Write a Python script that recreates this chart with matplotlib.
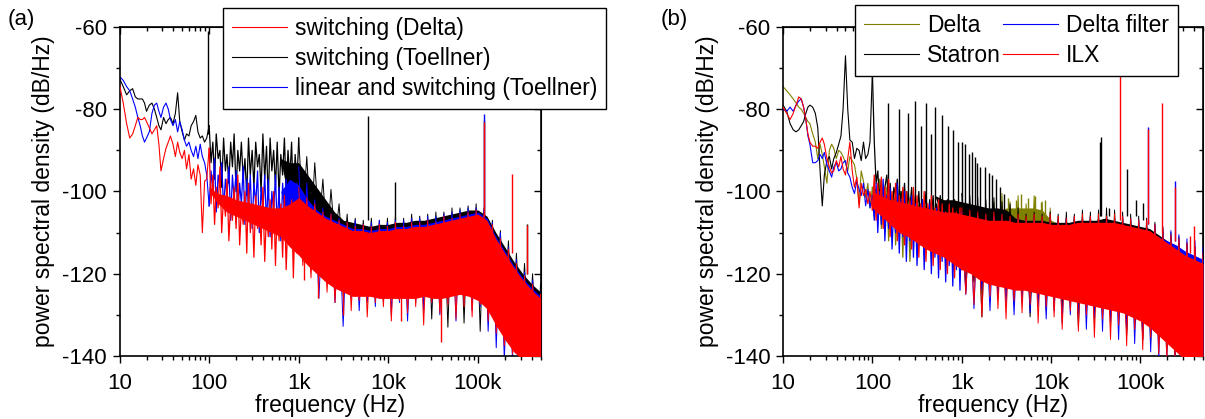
import matplotlib
matplotlib.use("Agg")
import matplotlib.pyplot as plt
from matplotlib.ticker import FixedLocator, FixedFormatter, MultipleLocator, NullFormatter, LogLocator

plt.rcParams["font.family"] = ["Liberation Sans", "DejaVu Sans"]
plt.rcParams["axes.unicode_minus"] = False

# shared frequency grids (Hz)
f_low = [10, 11, 12, 13, 14, 15, 16, 17, 18, 19, 20, 21.5, 23, 24.5, 26, 27.5, 29, 31, 33, 35,
         37, 39.5, 42, 44.5, 47, 50, 53, 56, 59.5, 63, 67, 71, 75, 79.5, 84, 89, 94, 100]
f_mid = [100, 105, 110, 115, 120, 126, 132, 138, 145, 152, 158, 166, 174, 182, 190, 200, 209,
         219, 229, 240, 251, 263, 275, 288, 302, 316, 331, 347, 363, 380, 398, 417, 437, 457,
         479, 501, 525, 550, 575, 603, 631, 661, 692, 724, 759, 794, 832, 871, 912, 955, 1000]
# envelope nodes of the dense noise band
f_band = [100, 126, 158, 200, 251, 316, 398, 501, 631, 794, 1000, 1259, 1585, 1995, 2512, 3162,
          3981, 5012, 6310, 7943, 10000, 12589, 15849, 19953, 25119, 31623, 39811, 50119, 63096,
          79433, 100000, 125893, 158489, 199526, 251189, 316228, 398107, 501187]
# edge noise of the band (alternating upper / lower excursions)
f_fuzz = [1000, 1110, 1230, 1370, 1510, 1680, 1860, 2070, 2290, 2540, 2820, 3130, 3470, 3850,
          4270, 4730, 5250, 5820, 6460, 7160, 7940, 8810, 9770, 10800, 12000, 13300, 14800,
          16400, 18200, 20200, 22400, 24800, 27500, 30500, 33900, 37600, 41700, 46200, 51300,
          56900, 63100, 70000, 77600, 86100, 95500, 106000, 117000, 130000, 145000, 160000,
          178000, 197000, 219000, 243000, 269000, 299000, 331000, 367000, 407000, 452000, 500000]

x_ticks = [10, 100, 1000, 10000, 100000]
x_tick_labels = ["10", "100", "1k", "10k", "100k"]

# ---------------- panel (a) ----------------
a_red_label = "switching (Delta)"
a_red_low = [-74.0, -78.5, -83.5, -87.0, -86.0, -84.0, -82.0, -82.5, -82.5, -82.0, -83.0, -84.5,
             -86.0, -85.0, -84.0, -88.5, -95.0, -92.0, -89.5, -88.0, -86.5, -88.5, -91.5, -88.0,
             -90.5, -92.0, -90.0, -94.5, -91.0, -97.0, -94.5, -98.5, -93.5, -96.0, -110.0,
             -97.5, -97.0, -89.5]
a_red_mid = [-89.5, -103, -96, -108, -99, -104, -94, -110, -101, -106, -97, -112, -103, -107, -99,
             -109, -96, -113, -104, -108, -100, -115, -98, -110, -103, -116, -101, -109, -104,
             -113, -99, -117, -105, -111, -102, -114, -100, -118, -104, -112, -103, -116, -101,
             -119, -106, -113, -102, -121, -105, -115, -103]
a_red_hi = [-99, -100.5, -101, -102, -102.5, -103, -103.5, -104, -104, -103, -101.5, -103.5,
            -105, -106.5, -107.5, -108.5, -109.5, -109.5, -110, -109.5, -109.5, -109, -109,
            -108.5, -108.5, -108, -107.5, -107, -106.5, -106, -105.5, -107, -111.5, -115,
            -118.5, -121.5, -124, -126]
a_red_lo = [-100, -103, -105, -106, -107, -108, -109, -110, -111, -113.5, -115.5, -118,
            -120, -122, -123.5, -124.5, -125.5, -125.5, -125.5, -126, -126, -126, -126, -126,
            -125.5, -126, -126, -125.5, -125, -125.5, -126.5, -128.5, -132.5, -136, -139, -141,
            -141, -141]
a_red_fuzz = [-99, -118, -101.5, -121, -103, -120, -105, -124.5, -105.5, -127, -107, -125.5,
              -107.5, -129, -108.5, -126.5, -108, -130.5, -108.5, -127, -108, -128, -108.5,
              -131.5, -107.5, -126.5, -108.5, -129.5, -107.5, -128, -107.5, -132.5, -107, -127,
              -107.5, -129.5, -106, -127.5, -106.5, -131, -105.5, -128, -105, -130.5, -104.5,
              -127.5, -105.5, -131.5, -108, -134.5, -111.5, -137.5, -114, -139.5, -117.5, -141,
              -120.5, -141, -122.5, -141, -125]
a_red_spike_f = [1150, 1650, 3100, 14000, 39000, 118000, 237000, 355000]
a_red_spike_base = [-112, -115, -120, -120, -120, -106, -115, -120]
a_red_spike_db = [-121.5, -126, -130, -131.5, -136.5, -83.2, -95.7, -108.2]

a_blk_label = "switching (Toellner)"
a_blk_low = [-72.5, -74.5, -76.5, -75.5, -75.0, -77.0, -77.5, -77.5, -77.5, -78.5, -80.5, -79.0,
             -78.5, -80.0, -82.0, -84.0, -85.0, -82.0, -83.5, -82.5, -82.0, -83.5, -81.0, -76.0,
             -83.0, -85.5, -87.5, -86.0, -86.5, -84.0, -83.0, -81.5, -85.5, -87.0, -86.5, -88.0,
             -87.0, -84.0]
a_blk_mid = [-84, -93, -88, -97, -86, -92, -90, -99, -87, -95, -91, -98, -88, -94, -86, -100, -90,
             -95, -88, -97, -92, -101, -87, -96, -90, -99, -88, -94, -91, -100, -86, -97, -89,
             -102, -87, -95, -90, -99, -88, -101, -91, -96, -87, -100, -90, -97, -88, -102, -91,
             -98, -87]
a_blk_hi = [-92, -92, -92, -92, -92, -92, -92, -92, -92, -93, -93, -96, -99,
            -102, -105, -107, -107.5, -108, -108.5, -108, -108, -107.5, -107.5, -107, -107,
            -106.5, -106, -105.5, -105, -104.5, -104.5, -106, -110, -113.5, -117, -120, -122.5,
            -124.5]
a_blk_lo = [-92, -92, -92, -92, -92, -92, -92, -92, -92, -104, -112, -116, -119, -121, -122.5,
            -123.5, -124.5, -124.5, -124.5, -125, -125, -125, -125, -125, -124.5, -125, -125,
            -124.5, -124, -124.5, -125.5, -127.5, -131.5, -135, -138, -140, -141, -141]
a_blk_fuzz = [-87, -106, -91.5, -110, -93, -109, -97, -113, -99.5, -112, -103, -118, -105.5,
              -121, -106.5, -122, -107, -123, -106.5, -122, -107, -123, -106.5, -122, -106, -123,
              -106.5, -122, -105.5, -123, -106, -122, -105.5, -131, -105, -122, -105, -133,
              -104, -122, -104, -132, -103.5, -122, -103, -134, -104, -124, -107, -128, -109.5,
              -131, -112, -134, -115, -136, -117.5, -138, -120, -140, -122.5]
a_blk_spike_f = [98, 6000, 11900, 118000, 355000]
a_blk_spike_base = [-86, -107, -107, -106, -120]
a_blk_spike_db = [-61, -81.6, -97.7, -82.5, -108]

a_blu_label = "linear and switching (Toellner)"
a_blu_low = [-72.0, -73.0, -74.5, -75.5, -77.5, -79.5, -82.0, -84.0, -86.5, -88.0, -87.0, -85.5,
             -81.0, -79.0, -78.5, -80.5, -82.0, -79.5, -78.5, -80.0, -82.5, -84.0, -82.5, -85.5,
             -83.0, -85.0, -87.5, -89.0, -88.0, -90.0, -91.5, -89.0, -92.0, -88.5, -91.5, -93.0,
             -96.0, -103.5]
a_blu_mid = [-103.5, -95, -100, -92, -105, -96, -99, -93, -104, -97, -101, -94, -107, -96, -102,
             -95, -106, -98, -103, -94, -108, -97, -104, -96, -109, -98, -103, -95, -110, -99,
             -105, -96, -108, -97, -111, -100, -105, -96, -109, -99, -112, -98, -106, -97, -110,
             -100, -113, -99, -107, -98, -112]
a_blu_hi = [-100, -100, -100, -100, -100, -100, -100, -100, -100, -97, -98.5, -102, -104.5, -106,
            -107, -108, -109, -109, -109.5, -109, -109, -108.5, -108.5, -108, -108, -107.5,
            -107, -106.5, -106, -105.5, -105, -106.5, -111, -114.5, -118, -121, -123.5, -125.5]
a_blu_lo = [-100, -100, -100, -100, -100, -100, -100, -100, -100, -110, -115,
            -117.5, -119.5, -121.5, -123, -124, -125, -125, -125, -125.5, -125.5, -125.5, -125.5,
            -125.5, -125, -125.5, -125.5, -125, -124.5, -125, -126, -128, -132, -135.5, -138.5,
            -141, -141, -141]
a_blu_fuzz = [-94, -117, -98, -119, -102, -126, -104, -122, -105.5, -127, -106.5, -132.8, -107.5,
              -126, -107, -129, -108, -127, -107.5, -128, -107, -127, -107.5, -130, -107, -127,
              -107, -131.5, -106.5, -127, -106.5, -129, -106, -127, -106, -130, -105.5, -127,
              -105, -131.5, -104.5, -127, -104, -129, -104, -128, -104.5, -134, -107.5, -138,
              -110, -141, -113.5, -141, -116.5, -141, -119.5, -141, -121.5, -141, -124]
a_blu_spike_f = [118000]
a_blu_spike_base = [-106]
a_blu_spike_db = [-81.2]

# ---------------- panel (b) ----------------
b_olv_label = "Delta"
b_olv_low = [-74.5, -75.5, -76.5, -77.5, -78.5, -79.5, -80.0, -81.0, -82.0, -83.0, -83.5, -86.0,
             -88.0, -92.0, -88.5, -91.0, -94.0, -98.0, -90.0, -88.5, -89.5, -92.0, -90.0, -90.5,
             -91.5, -93.0, -95.0, -91.5, -92.5, -93.5, -97.0, -103.0, -95.0, -97.5, -101.5,
             -98.0, -104.0, -99.0]
b_olv_mid = [-99, -106, -101, -104, -97, -109, -102, -105, -99, -112, -101, -107, -100, -113,
             -104, -108, -100, -116, -103, -109, -102, -117, -106, -110, -102, -115, -105, -111,
             -104, -116, -108, -112, -103, -117, -107, -113, -105, -116, -109, -114, -106, -118,
             -108, -115, -105, -119, -111, -114, -107, -120, -109]
b_olv_hi = [-99, -100, -101, -102, -102.5, -103, -103.5, -104, -104, -104, -105, -105.5,
            -106, -106, -105, -104, -104, -104, -104, -104.5, -107, -108, -108, -107.5, -107.5,
            -107.5, -107.5, -107.5, -108, -108.5, -109, -110, -111.5, -113, -114.5, -116, -117,
            -118]
b_olv_lo = [-103, -105, -107, -109, -110, -111, -112, -113, -114, -116, -118, -119.5, -121, -122,
            -122.5, -123, -123.5, -123.5, -124, -124.5, -125, -125.5, -126, -126.5, -127, -127.5,
            -128, -128.5, -129, -130, -131, -132.5, -134.5, -136.5, -138.5, -140.5, -141, -141]
b_olv_fuzz = [-103.5, -124, -104, -122, -104.5, -125, -104, -123, -102.5, -126, -100.5, -124,
              -102.5, -127, -101, -125, -103, -128, -101, -126, -102.5, -129, -104, -127,
              -106.5, -130, -106.5, -128, -106, -131, -106.5, -129, -106, -132, -106.5, -130,
              -106, -133, -106.5, -131, -106.5, -134, -107, -132, -107.5, -135, -108, -137, -109,
              -135, -110, -138, -111, -140, -112.5, -141, -114, -141, -115, -141, -116]
b_olv_spike_f = [3300, 4000, 4600, 5500, 6600, 7700, 8600]
b_olv_spike_base = [-106, -106, -106, -106, -106, -106, -107]
b_olv_spike_db = [-101.5, -102, -100.5, -101.5, -101, -102.5, -102]

b_blk_label = "Statron"
b_blk_low = [-79.0, -80.5, -83.5, -85.0, -85.5, -85.0, -84.0, -83.0, -81.0, -79.5, -79.0, -79.5,
             -81.0, -84.5, -95.0, -103.5, -96.0, -92.5, -91.5, -94.5, -92.0, -90.5, -88.5, -86.5,
             -80.0, -67.0, -80.0, -87.5, -88.0, -92.0, -89.5, -90.0, -92.5, -88.0, -92.0, -91.0,
             -88.0, -71.0]
b_blk_mid = [-71, -88, -98, -95, -102, -97, -104, -99, -96, -103, -98, -105, -99, -101, -97, -106,
             -100, -103, -98, -107, -100, -104, -99, -108, -101, -105, -100, -109, -102, -106,
             -100, -110, -102, -106, -101, -111, -103, -107, -101, -112, -104, -108, -102, -113,
             -104, -108, -102, -114, -105, -109, -103]
b_blk_hi = [-101, -101, -101, -101, -101, -101, -101, -101, -102, -102, -102.5, -103, -103.5,
            -104, -104, -104.5, -106.5, -107, -107, -107, -107.5, -107.5, -107.5, -107, -107,
            -107, -106.5, -107, -107.5, -108, -108.5, -109, -110.5, -112, -113.5, -115, -116,
            -117]
b_blk_lo = [-101, -101, -101, -101, -101, -101, -101, -101, -108, -115, -118, -119.5, -121, -122,
            -122.5, -123, -123.5, -123.5, -124, -124.5, -125, -125.5, -126, -126.5, -127, -127.5,
            -128, -128.5, -129, -130, -131, -132.5, -134.5, -136.5, -138.5, -140.5, -141, -141]
b_blk_fuzz = [-100.5, -124, -101, -122, -101.5, -130.5, -102, -123, -101.5, -125, -102.5, -124,
              -103, -126, -104, -125, -105.5, -130.5, -105, -126, -105.5, -127, -105, -126,
              -105.5, -128, -105, -127, -105.5, -133, -104.5, -128, -105, -130, -104.5, -129,
              -104, -131, -104.5, -130, -105, -135, -105.5, -132, -106, -136, -106.5, -134,
              -107.5, -136, -108.5, -138, -110, -140, -111, -141, -112.5, -141, -113.5, -141,
              -115]
b_blk_spike_f = [150, 200, 250, 300, 350, 400, 450, 500, 600, 700, 800, 900, 1000, 1100, 1200,
                 1300, 1400, 1500, 1600, 1800, 2000, 2200, 2400, 2700, 3000, 35000, 36500, 45000,
                 70000, 90000, 107000]
b_blk_spike_base = [-100, -101, -102, -102, -103, -103, -104, -104, -104, -105, -105, -105, -104,
                    -104, -104, -104, -104, -104, -104, -104, -105, -105, -105, -105, -105, -106,
                    -106, -106, -106, -106, -107]
b_blk_spike_db = [-78.5, -80, -81, -78, -84, -78.5, -86, -79.5, -81.5, -84, -85, -88, -88, -88.5,
                  -91, -90.5, -91.5, -93, -94, -94, -95.5, -96, -97, -99, -100.5, -88, -86.7,
                  -104, -94.5, -102, -102.8]

b_blu_label = "Delta filter"
b_blu_low = [-80.0, -80.5, -79.5, -80.5, -79.0, -78.0, -77.5, -79.5, -82.5, -86.5, -88.5, -93.0,
             -93.0, -92.5, -91.0, -92.0, -90.5, -93.5, -95.0, -96.5, -94.0, -93.0, -95.0, -94.5,
             -93.0, -92.5, -95.5, -96.5, -99.0, -100.5, -97.5, -99.5, -101.0, -98.0, -103.5,
             -99.5, -104.0, -101.0]
b_blu_mid = [-101, -107, -98, -110, -100, -108, -97, -112, -101, -109, -99, -114, -103, -110, -98,
             -115, -102, -111, -100, -117, -104, -112, -101, -116, -103, -118, -105, -113, -102,
             -119, -106, -114, -103, -120, -105, -116, -104, -121, -107, -117, -105, -122, -108,
             -118, -106, -123, -107, -119, -106, -124, -108]
b_blu_hi = [-100, -101, -102, -103, -103.5, -104, -104.5, -105, -105.5, -106, -106, -106.5, -107,
            -107.5, -107.5, -107.5, -108, -108, -108, -108, -108.5, -108.5, -108.5, -108, -108,
            -108, -108, -108, -108.5, -109, -109.5, -110, -111, -112, -113, -114.5, -115.5,
            -116.5]
b_blu_lo = [-103.5, -105.5, -107.5, -109.5, -110.5, -112, -113.5, -114.5, -115.5, -117, -118.5,
            -119.5, -121, -122, -122.5, -123, -123.5, -123.5, -124, -124.5, -125, -125.5, -126,
            -126.5, -127, -127.5, -128, -128.5, -129, -130, -131, -132.5, -134.5, -136.5, -138.5,
            -140.5, -141, -141]
b_blu_fuzz = [-105, -125, -105.5, -128.5, -106, -124, -106.5, -129, -106, -126, -106.5, -127.5,
              -107, -130, -106.5, -127, -107, -129.5, -106.5, -128, -107, -131, -106.5, -129,
              -107, -132, -106.5, -130, -106, -131, -106.5, -133.5, -106, -131, -106.5, -134,
              -106, -132, -106.5, -136, -106, -134, -106.5, -137, -107, -136, -107.5, -139, -108,
              -141, -109, -141, -109.5, -141, -110.5, -141, -111.5, -141, -112, -141, -113.5]
b_blu_spike_f = [120000, 241000]
b_blu_spike_base = [-108, -112]
b_blu_spike_db = [-84.3, -97.5]

b_red_label = "ILX"
b_red_low = [-79.5, -81.0, -82.5, -81.0, -79.0, -77.0, -77.5, -79.5, -82.5, -86.0, -88.0, -89.0,
             -89.0, -89.5, -88.0, -87.0, -88.5, -92.0, -94.0, -95.5, -95.0, -92.5, -94.0, -91.5,
             -94.5, -96.0, -92.0, -88.0, -95.0, -99.0, -96.5, -104.0, -98.0, -101.0, -99.5,
             -103.0, -100.0, -104.5]
b_red_mid = [-104.5, -96, -107, -98, -105, -96.5, -109, -99, -106, -97, -111, -100, -107, -98,
             -112, -101, -108, -99, -113, -100, -110, -102, -114, -99, -111, -101, -116, -103,
             -112, -100, -117, -103, -113, -101, -118, -104, -114, -102, -119, -103, -115, -105,
             -120, -103, -116, -104, -121, -105, -117, -104, -119]
b_red_hi = [-100, -101, -102, -102.5, -103, -103.5, -104, -104.5, -105, -105, -105.5, -106,
            -106.5, -107, -107, -107, -107.5, -107.5, -107.5, -107.5, -108, -108, -108, -107.5,
            -107.5, -107.5, -107.5, -107.5, -108, -108.5, -109, -109.5, -111, -112.5, -114,
            -115.5, -116.5, -117.5]
b_red_lo = [-104, -106, -108, -110, -111, -112.5, -114, -115, -116, -117.5, -119, -120, -121.5,
            -122.5, -123, -123.5, -124, -124, -124.5, -125, -125.5, -126, -126.5, -127, -127.5,
            -128, -128.5, -129, -129.5, -130.5, -131.5, -133, -135, -137, -139, -141, -141, -141]
b_red_fuzz = [-104, -125, -104.5, -127.5, -105, -130.5, -105.5, -125.5, -105, -128.5, -105.5,
              -131, -106, -126.5, -105.5, -129.5, -106, -127.5, -105.5, -132, -106, -128, -105.5,
              -130.5, -106, -133.5, -106.5, -129, -106, -134, -105.5, -130, -106, -135.5, -105.5,
              -131, -106, -136, -105.5, -132.5, -106, -137.5, -106.5, -133.5, -107, -138.5, -107,
              -135.5, -108, -139.5, -109.5, -141, -110.5, -141, -111.5, -141, -112.5, -141,
              -113.5, -141, -115]
b_red_spike_f = [59000, 120000, 175000, 241000, 355000, 400000]
b_red_spike_base = [-107, -108, -110, -112, -115, -116]
b_red_spike_db = [-71, -84.8, -78.6, -98.8, -110.8, -108.4]


def draw_series(ax, color, low, mid, hi, lo, fuzz, spk_f, spk_base, spk_db, z, label):
    ax.plot(f_low, low, color=color, lw=0.8, zorder=z, label=label)
    ax.plot(f_mid, mid, color=color, lw=0.9, zorder=z)
    ax.fill_between(f_band, lo, hi, color=color, lw=0, zorder=z)
    ax.plot(f_fuzz, fuzz, color=color, lw=0.7, zorder=z)
    if spk_f:
        ax.vlines(spk_f, spk_base, spk_db, color=color, lw=1.0, zorder=z)


def style_axes(ax):
    ax.set_xscale("log")
    ax.set_xlim(10, 5.0e5)
    ax.set_ylim(-140, -60)
    ax.xaxis.set_major_locator(FixedLocator(x_ticks))
    ax.xaxis.set_major_formatter(FixedFormatter(x_tick_labels))
    ax.xaxis.set_minor_locator(LogLocator(base=10, subs=range(2, 10), numticks=20))
    ax.xaxis.set_minor_formatter(NullFormatter())
    ax.yaxis.set_major_locator(MultipleLocator(20))
    ax.yaxis.set_minor_locator(MultipleLocator(10))
    ax.tick_params(which="both", direction="out", width=1.0, labelsize=16)
    ax.tick_params(which="major", length=5, pad=4)
    ax.tick_params(axis="x", which="major", pad=7)
    ax.tick_params(which="minor", length=3)
    for s in ax.spines.values():
        s.set_linewidth(1.2)
    top = ax.secondary_xaxis("top")
    top.xaxis.set_major_locator(FixedLocator(x_ticks))
    top.xaxis.set_minor_locator(LogLocator(base=10, subs=range(2, 10), numticks=20))
    top.xaxis.set_major_formatter(NullFormatter())
    top.xaxis.set_minor_formatter(NullFormatter())
    top.tick_params(which="both", direction="in", width=1.0)
    top.tick_params(which="major", length=5)
    top.tick_params(which="minor", length=3)
    right = ax.secondary_yaxis("right")
    right.yaxis.set_major_locator(MultipleLocator(20))
    right.yaxis.set_minor_locator(MultipleLocator(10))
    right.yaxis.set_major_formatter(NullFormatter())
    right.yaxis.set_minor_formatter(NullFormatter())
    right.tick_params(which="both", direction="in", width=1.0)
    right.tick_params(which="major", length=5)
    right.tick_params(which="minor", length=3)
    ax.set_xlabel("frequency (Hz)", fontsize=16.5, labelpad=0)
    ax.set_ylabel("power spectral density (dB/Hz)", fontsize=16.5, labelpad=5)


fig = plt.figure(figsize=(12.05, 4.19), dpi=100)
ax_a = fig.add_axes([0.0992, 0.1504, 0.3494, 0.7852])
ax_b = fig.add_axes([0.6498, 0.1504, 0.3485, 0.7852])

draw_series(ax_a, "black", a_blk_low, a_blk_mid, a_blk_hi, a_blk_lo, a_blk_fuzz, a_blk_spike_f,
            a_blk_spike_base, a_blk_spike_db, 1, a_blk_label)
draw_series(ax_a, "#0000ff", a_blu_low, a_blu_mid, a_blu_hi, a_blu_lo, a_blu_fuzz, a_blu_spike_f,
            a_blu_spike_base, a_blu_spike_db, 2, a_blu_label)
draw_series(ax_a, "#ff0000", a_red_low, a_red_mid, a_red_hi, a_red_lo, a_red_fuzz, a_red_spike_f,
            a_red_spike_base, a_red_spike_db, 3, a_red_label)
style_axes(ax_a)
h, l = ax_a.get_legend_handles_labels()
order = [2, 0, 1]
leg_a = ax_a.legend([h[i] for i in order], [l[i] for i in order], loc="upper left",
                    bbox_to_anchor=(0.245, 1.058), fontsize=16.5, frameon=True, fancybox=False,
                    edgecolor="black", framealpha=1, handlelength=2.4, labelspacing=0.3,
                    borderpad=0.4, handletextpad=0.35, borderaxespad=0)
leg_a.get_frame().set_linewidth(1.0)
leg_a.set_zorder(10)

draw_series(ax_b, "#808000", b_olv_low, b_olv_mid, b_olv_hi, b_olv_lo, b_olv_fuzz, b_olv_spike_f,
            b_olv_spike_base, b_olv_spike_db, 1, b_olv_label)
draw_series(ax_b, "black", b_blk_low, b_blk_mid, b_blk_hi, b_blk_lo, b_blk_fuzz, b_blk_spike_f,
            b_blk_spike_base, b_blk_spike_db, 2, b_blk_label)
draw_series(ax_b, "#0000ff", b_blu_low, b_blu_mid, b_blu_hi, b_blu_lo, b_blu_fuzz, b_blu_spike_f,
            b_blu_spike_base, b_blu_spike_db, 3, b_blu_label)
draw_series(ax_b, "#ff0000", b_red_low, b_red_mid, b_red_hi, b_red_lo, b_red_fuzz, b_red_spike_f,
            b_red_spike_base, b_red_spike_db, 4, b_red_label)
style_axes(ax_b)
h, l = ax_b.get_legend_handles_labels()
leg_b = ax_b.legend(h, l, loc="upper left", ncol=2,
                    bbox_to_anchor=(0.171, 1.067), fontsize=16.5, frameon=True, fancybox=False,
                    edgecolor="black", framealpha=1, handlelength=2.4, labelspacing=0.3,
                    borderpad=0.4, handletextpad=0.35, columnspacing=0.1, borderaxespad=0)
leg_b.get_frame().set_linewidth(1.0)
leg_b.set_zorder(10)

fig.text(8 / 1205, 1 - 20 / 419, "(a)", fontsize=16, ha="left", va="center")
fig.text(661 / 1205, 1 - 20 / 419, "(b)", fontsize=16, ha="left", va="center")

fig.savefig("out.png", dpi=100)
